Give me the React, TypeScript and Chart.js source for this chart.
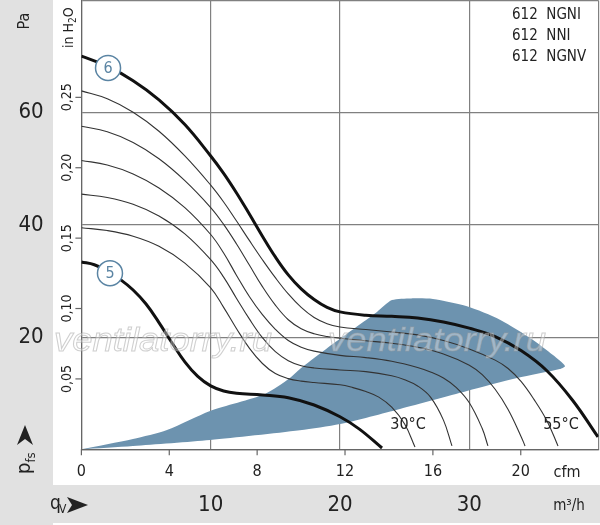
import React, { useEffect, useRef } from 'react';
import { Chart, registerables } from 'chart.js';

Chart.register(...registerables);

// ---- unit conversions / axis ranges ----
const M3H_PER_CFM = 1.699;
const PA_PER_INH2O = 251;
const X_MAX = 40; // m³/h
const Y_MAX = 80; // Pa

// ---- tick labels ----
const M3H_TICKS = [10, 20, 30];
const PA_TICKS = [20, 40, 60];
const CFM_TICKS = [0, 4, 8, 12, 16, 20];
const INH2O_TICKS = [0.05, 0.1, 0.15, 0.2, 0.25];
const INH2O_TICK_LABELS = ['0,05', '0,10', '0,15', '0,20', '0,25'];
const MODELS = ['612  NGNI', '612  NNI', '612  NGNV'];

// ---- curves: flow in m³/h, pressure in Pa ----
const CURVE6_Q = [0, 2, 4, 6, 8, 10, 11, 12, 13, 14, 15, 16, 17, 18, 19, 20, 22, 24, 26, 28, 30, 32, 34, 36, 38, 39.95];
const CURVE6_P = [70.1, 68.3, 65.7, 62.3, 57.9, 52.3, 49.2, 45.7, 41.9, 38.0, 34.3, 31.1, 28.6, 26.7, 25.3, 24.5, 23.9, 23.7, 23.4, 22.7, 21.6, 20.1, 17.6, 14.0, 8.7, 2.2];

const THIN1_Q = [0, 2, 4, 6, 8, 10, 11, 12, 13, 14, 15, 16, 17, 18, 19, 20, 22, 24, 26, 28, 30, 32, 33, 34, 35, 36, 36.86];
const THIN1_P = [63.9, 62.5, 60.1, 56.7, 52.3, 47.1, 44.1, 40.7, 37.2, 33.8, 30.6, 27.7, 25.3, 23.5, 22.4, 21.8, 21.35, 20.9, 20.4, 19.4, 17.9, 15.9, 14.4, 12.1, 8.9, 5.1, 0.6];

const THIN2_Q = [0, 2, 4, 6, 8, 10, 11, 12, 13, 14, 15, 16, 17, 18, 19, 20, 22, 24, 26, 28, 30, 31, 32, 33, 34, 34.31];
const THIN2_P = [57.6, 56.6, 54.7, 51.8, 47.9, 43.1, 40.1, 36.6, 32.8, 29.0, 25.7, 23.1, 21.5, 20.6, 20.1, 19.8, 19.35, 18.9, 18.2, 17.0, 15.0, 13.3, 10.7, 7.1, 2.3, 0.6];

const THIN3_Q = [0, 2, 4, 6, 8, 10, 11, 12, 13, 14, 15, 16, 17, 18, 20, 22, 24, 26, 27, 28, 29, 30, 31, 31.44];
const THIN3_P = [51.5, 50.7, 49.1, 46.6, 43.1, 38.3, 35.0, 31.0, 27.2, 24.0, 21.4, 19.4, 18.2, 17.5, 16.75, 16.35, 15.7, 14.6, 13.8, 12.7, 11.0, 8.3, 3.7, 0.6];

const THIN4_Q = [0, 2, 4, 6, 8, 10, 11, 12, 13, 14, 15, 16, 17, 18, 20, 22, 24, 25, 26, 27, 28, 28.66];
const THIN4_P = [45.5, 44.9, 43.7, 41.6, 38.4, 33.8, 30.7, 26.9, 23.2, 19.9, 17.4, 15.8, 14.9, 14.5, 14.15, 13.85, 13.1, 12.4, 11.3, 9.3, 5.2, 0.6];

const THIN5_Q = [0, 2, 4, 6, 8, 10, 11, 12, 13, 14, 15, 16, 17, 18, 20, 21, 22, 23, 24, 25, 25.8];
const THIN5_P = [39.5, 39.0, 38.0, 36.2, 33.2, 28.8, 25.3, 21.5, 18.0, 15.3, 13.5, 12.6, 12.15, 11.9, 11.5, 11.0, 10.3, 9.3, 7.5, 4.5, 0.4];

const CURVE5_Q = [0, 1, 2, 3, 4, 5, 6, 7, 8, 9, 10, 11, 12, 14, 16, 18, 20, 21.5, 23.25];
const CURVE5_P = [33.4, 32.9, 31.8, 30.3, 28.4, 25.9, 22.6, 19.0, 15.6, 13.0, 11.3, 10.4, 10.0, 9.7, 9.2, 7.9, 5.8, 3.6, 0.23];

// operating range (closed outline)
const RANGE_Q = [0, 3.99, 6.62, 9.95, 14.2, 16.13, 16.9, 19.46, 21.55, 22.86, 24.02, 25.5, 27.19, 29.82, 32.37, 34.93, 36.47, 37.4, 37.0, 33.69, 29.82, 24.64, 20.0, 16.9, 9.95, 3.99, 0];
const RANGE_P = [0, 1.84, 3.44, 6.84, 9.86, 12.7, 14.3, 18.8, 22.3, 24.5, 26.6, 26.9, 26.8, 25.5, 23.1, 19.5, 16.8, 14.85, 14.3, 12.7, 10.4, 7.2, 4.5, 3.4, 1.66, 0.59, 0];

// curve badges and temperature labels (anchor in m³/h, Pa)
const BADGE_TEXT = ['6', '5'];
const BADGE_Q = [2.06, 2.21];
const BADGE_P = [68.0, 31.4];
const TEMP_TEXT = ['30°C', '55°C'];
const TEMP_Q = [25.26, 37.09];
const TEMP_P = [2.2, 2.2];

const WATERMARK = 'ventilatorry.ru';

const FONT = '"Liberation Sans Narrow", "DejaVu Sans Condensed", "Arial Narrow", sans-serif';
const BLUE = '#6d93af';
const BADGE = '#5a84a3';
const GRAY_BG = '#e1e1e1';

const pts = (q: number[], p: number[]) => q.map((x, i) => ({ x, y: p[i] }));

const bgPlugin = {
  id: 'bg',
  beforeDraw(chart: any) {
    const { ctx, width, height } = chart;
    ctx.save();
    ctx.fillStyle = '#ffffff';
    ctx.fillRect(0, 0, width, height);
    ctx.fillStyle = GRAY_BG;
    ctx.fillRect(0, 0, 53, height);
    ctx.fillRect(0, 485, width, 38);
    ctx.restore();
  },
};

const textPlugin = {
  id: 'texts',
  afterDraw(chart: any) {
    const { ctx, chartArea } = chart;
    const xs = chart.scales.x;
    const ys = chart.scales.y;
    const cs = chart.scales.cfm;
    const hs = chart.scales.inh2o;
    ctx.save();

    // watermark
    ctx.font = 'italic 34px "Liberation Sans", Arial, sans-serif';
    const tw = ctx.measureText(WATERMARK).width;
    [163, 437].forEach((cx) => {
      ctx.save();
      ctx.translate(cx, 351);
      ctx.scale(218 / tw, 1);
      ctx.textAlign = 'center';
      ctx.textBaseline = 'alphabetic';
      ctx.fillStyle = 'rgba(255,255,255,0.35)';
      ctx.fillText(WATERMARK, 0, 0);
      ctx.strokeStyle = 'rgba(160,160,160,0.5)';
      ctx.lineWidth = 1;
      ctx.strokeText(WATERMARK, 0, 0);
      ctx.restore();
    });

    // tick marks
    ctx.strokeStyle = '#666';
    ctx.lineWidth = 1.2;
    CFM_TICKS.forEach((v) => {
      const px = cs.getPixelForValue(v);
      ctx.beginPath();
      ctx.moveTo(px, chartArea.bottom);
      ctx.lineTo(px, chartArea.bottom + 6);
      ctx.stroke();
    });
    INH2O_TICKS.forEach((v) => {
      const py = hs.getPixelForValue(v);
      ctx.beginPath();
      ctx.moveTo(chartArea.left - 6, py);
      ctx.lineTo(chartArea.left, py);
      ctx.stroke();
    });

    ctx.fillStyle = '#222';
    ctx.textAlign = 'center';
    ctx.textBaseline = 'middle';

    // cfm axis
    ctx.font = `16px ${FONT}`;
    CFM_TICKS.forEach((v) => ctx.fillText(String(v), cs.getPixelForValue(v), 472));
    ctx.fillText('cfm', 567, 473);

    // m³/h axis and Pa axis
    ctx.font = `22px ${FONT}`;
    M3H_TICKS.forEach((v) => ctx.fillText(String(v), xs.getPixelForValue(v), 505));
    PA_TICKS.forEach((v) => ctx.fillText(String(v), 31, ys.getPixelForValue(v)));
    ctx.font = `15px ${FONT}`;
    ctx.fillText('m³/h', 569, 506);

    // in H2O tick labels (rotated)
    ctx.font = `14px ${FONT}`;
    INH2O_TICKS.forEach((v, i) => {
      const py = hs.getPixelForValue(v);
      ctx.save();
      ctx.translate(67, py);
      ctx.rotate(-Math.PI / 2);
      ctx.fillText(INH2O_TICK_LABELS[i], 0, 0);
      ctx.restore();
    });

    // "Pa"
    ctx.save();
    ctx.translate(25, 21);
    ctx.rotate(-Math.PI / 2);
    ctx.font = `16px ${FONT}`;
    ctx.fillText('Pa', 0, 0);
    ctx.restore();

    // "in H2O"
    ctx.save();
    ctx.translate(73, 48);
    ctx.rotate(-Math.PI / 2);
    ctx.textAlign = 'left';
    ctx.textBaseline = 'alphabetic';
    ctx.font = `14px ${FONT}`;
    ctx.fillText('in H', 0, 0);
    let w = ctx.measureText('in H').width;
    ctx.font = `10px ${FONT}`;
    ctx.fillText('2', w, 3);
    w += ctx.measureText('2').width;
    ctx.font = `14px ${FONT}`;
    ctx.fillText('O', w, 0);
    ctx.restore();

    // p_fs with arrow
    ctx.save();
    ctx.translate(30, 474);
    ctx.rotate(-Math.PI / 2);
    ctx.textAlign = 'left';
    ctx.textBaseline = 'alphabetic';
    ctx.font = `20px ${FONT}`;
    ctx.fillText('p', 0, 0);
    const pw = ctx.measureText('p').width;
    ctx.font = `13px ${FONT}`;
    ctx.fillText('fs', pw, 5);
    ctx.restore();
    ctx.beginPath();
    ctx.moveTo(25, 425);
    ctx.lineTo(17, 445);
    ctx.lineTo(25, 439);
    ctx.lineTo(33, 445);
    ctx.closePath();
    ctx.fill();

    // q_V with arrow
    ctx.textAlign = 'left';
    ctx.textBaseline = 'alphabetic';
    ctx.font = `19px ${FONT}`;
    ctx.fillText('q', 50, 509);
    ctx.font = `12px ${FONT}`;
    ctx.fillText('V', 59, 513);
    ctx.beginPath();
    ctx.moveTo(88, 505);
    ctx.lineTo(67, 497);
    ctx.lineTo(72, 505);
    ctx.lineTo(67, 513);
    ctx.closePath();
    ctx.fill();

    // model names
    ctx.textBaseline = 'middle';
    ctx.font = `15px ${FONT}`;
    MODELS.forEach((m, i) => ctx.fillText(m, 512, 15 + i * 21));

    // temperature labels
    ctx.textAlign = 'center';
    ctx.textBaseline = 'middle';
    ctx.font = `16px ${FONT}`;
    TEMP_TEXT.forEach((t, i) => ctx.fillText(t, xs.getPixelForValue(TEMP_Q[i]), ys.getPixelForValue(TEMP_P[i]) - 12));

    // curve badges
    BADGE_TEXT.forEach((t, i) => {
      const cx = xs.getPixelForValue(BADGE_Q[i]);
      const cy = ys.getPixelForValue(BADGE_P[i]);
      ctx.beginPath();
      ctx.arc(cx, cy, 12.5, 0, Math.PI * 2);
      ctx.fillStyle = '#ffffff';
      ctx.fill();
      ctx.lineWidth = 1.5;
      ctx.strokeStyle = BADGE;
      ctx.stroke();
      ctx.fillStyle = BADGE;
      ctx.font = `16px ${FONT}`;
      ctx.fillText(t, cx, cy + 1);
    });

    ctx.restore();
  },
};

export default function App() {
  const ref = useRef<HTMLCanvasElement>(null);

  useEffect(() => {
    if (!ref.current) return;
    const thick = (q: number[], p: number[]) => ({
      data: pts(q, p),
      showLine: true,
      borderColor: '#111111',
      borderWidth: 3,
      pointRadius: 0,
      tension: 0.4,
      fill: false,
      order: 1,
    });
    const thin = (q: number[], p: number[]) => ({
      data: pts(q, p),
      showLine: true,
      borderColor: '#333333',
      borderWidth: 1.1,
      pointRadius: 0,
      tension: 0.4,
      fill: false,
      order: 2,
    });
    const gridOpts = { color: '#808080', lineWidth: 1.2, drawTicks: false };
    const chart = new Chart(ref.current, {
      type: 'scatter',
      data: {
        datasets: [
          thick(CURVE6_Q, CURVE6_P),
          thin(THIN1_Q, THIN1_P),
          thin(THIN2_Q, THIN2_P),
          thin(THIN3_Q, THIN3_P),
          thin(THIN4_Q, THIN4_P),
          thin(THIN5_Q, THIN5_P),
          thick(CURVE5_Q, CURVE5_P),
          {
            data: pts(RANGE_Q, RANGE_P),
            showLine: true,
            borderWidth: 0,
            borderColor: BLUE,
            backgroundColor: BLUE,
            pointRadius: 0,
            tension: 0.25,
            fill: 'shape',
            order: 10,
          } as any,
        ],
      },
      options: {
        animation: false,
        responsive: false,
        layout: { padding: { left: 81.4, right: 1.4, top: 0.6, bottom: 75.7 } },
        plugins: { legend: { display: false }, tooltip: { enabled: false } },
        scales: {
          x: {
            type: 'linear',
            position: 'bottom',
            min: 0,
            max: X_MAX,
            ticks: { stepSize: 10, display: false },
            grid: gridOpts,
            border: { display: true, color: '#666', width: 1.2 },
            afterFit: (s: any) => { s.height = 0; },
          },
          y: {
            type: 'linear',
            position: 'left',
            min: 0,
            max: Y_MAX,
            ticks: { stepSize: 20, display: false },
            grid: gridOpts,
            border: { display: true, color: '#666', width: 1.2 },
            afterFit: (s: any) => { s.width = 0; },
          },
          cfm: {
            type: 'linear',
            position: 'bottom',
            display: false,
            min: 0,
            max: X_MAX / M3H_PER_CFM,
          },
          inh2o: {
            type: 'linear',
            position: 'left',
            display: false,
            min: 0,
            max: Y_MAX / PA_PER_INH2O,
          },
        },
      } as any,
      plugins: [bgPlugin, textPlugin],
    });
    return () => chart.destroy();
  }, []);

  return (
    <div style={{ position: 'absolute', left: 0, top: 0, width: 600, height: 525 }}>
      <canvas ref={ref} width={600} height={525} style={{ display: 'block' }} />
    </div>
  );
}
